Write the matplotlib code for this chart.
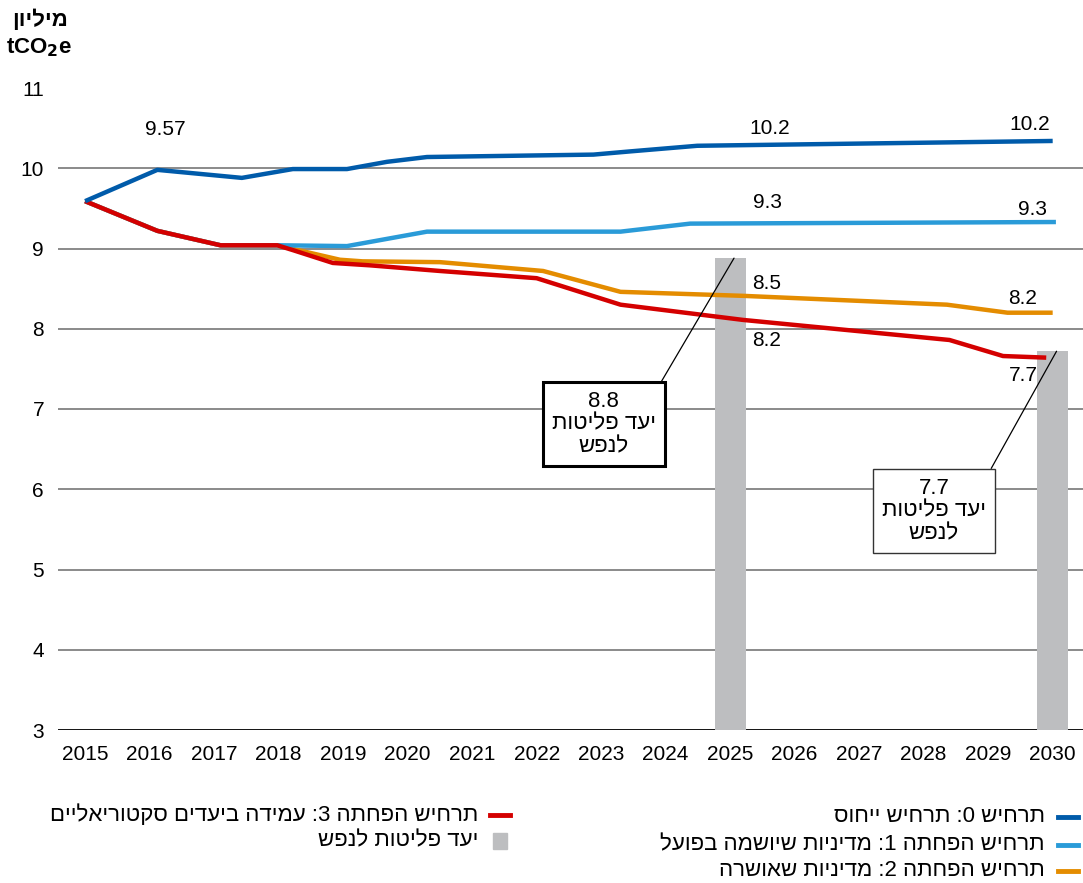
import matplotlib
matplotlib.use("Agg")
import matplotlib.pyplot as plt
from matplotlib.lines import Line2D
from matplotlib.patches import Rectangle

# Hebrew needs a font with the glyphs; matplotlib has no bidi so strings are reversed by hand
HEB = ['Liberation Sans', 'DejaVu Sans']
plt.rcParams['font.family'] = ['Liberation Sans', 'DejaVu Sans']


def rtl(s):
    # reverse logical order to visual order, keep digit runs left-to-right
    out = s[::-1]
    res, run = [], ''
    for ch in out:
        if ch.isdigit() or ch == '.':
            run += ch
        else:
            if run:
                res.append(run[::-1])
                run = ''
            res.append(ch)
    if run:
        res.append(run[::-1])
    return ''.join(res)


# data
base_x = [2015.0, 2016.12, 2017.43, 2018.22, 2019.06, 2019.68, 2020.3, 2022.88, 2023.45, 2024.49, 2030.0]
base_y = [9.59, 9.98, 9.88, 9.99, 9.99, 10.08, 10.14, 10.17, 10.21, 10.28, 10.34]

impl_x = [2015.0, 2016.12, 2017.1, 2018.0, 2019.06, 2020.3, 2023.3, 2024.38, 2030.05]
impl_y = [9.59, 9.22, 9.04, 9.04, 9.03, 9.21, 9.21, 9.31, 9.33]

appr_x = [2015.0, 2016.12, 2017.1, 2017.98, 2018.95, 2019.3, 2020.5, 2022.1, 2023.3, 2025.2, 2028.36, 2029.3, 2030.0]
appr_y = [9.59, 9.22, 9.04, 9.04, 8.86, 8.84, 8.83, 8.72, 8.46, 8.41, 8.30, 8.20, 8.20]

sect_x = [2015.0, 2016.12, 2017.1, 2017.98, 2018.22, 2018.84, 2019.42, 2020.5, 2022.0, 2023.3, 2025.2, 2028.4, 2029.23, 2029.9]
sect_y = [9.59, 9.22, 9.04, 9.04, 8.98, 8.82, 8.79, 8.72, 8.63, 8.30, 8.11, 7.86, 7.66, 7.64]

target_years = [2025, 2030]
target_vals = [8.88, 7.72]
target_text = ['8.8', '7.7']

years = list(range(2015, 2031))

value_labels = [
    ('9.57', 2016.24, 10.48),
    ('10.2', 2025.62, 10.50),
    ('10.2', 2029.64, 10.55),
    ('9.3', 2025.58, 9.57),
    ('9.3', 2029.69, 9.49),
    ('8.5', 2025.57, 8.57),
    ('8.2', 2025.57, 7.85),
    ('8.2', 2029.54, 8.38),
    ('7.7', 2029.54, 7.42),
]

C_BASE = '#005BAA'
C_IMPL = '#2A9BD8'
C_APPR = '#E48C00'
C_SECT = '#D40000'
C_BAR = '#BDBEC0'

fig = plt.figure(figsize=(10.83, 8.83), dpi=100)
ax = fig.add_axes([58 / 1083, 153 / 883, 1 - 58 / 1083, 642 / 883])

ax.set_xlim(2014.58, 2030.47)
ax.set_ylim(3, 11)

for v in range(4, 11):
    ax.axhline(v, color='#777777', lw=1.2, zorder=1)
ax.axhline(3, color='black', lw=1.3, zorder=1)

ax.bar(target_years, [v - 3 for v in target_vals], bottom=3, width=0.48, color=C_BAR, zorder=2)

lw = 3.2
ax.plot(appr_x, appr_y, color=C_APPR, lw=lw, zorder=3, solid_capstyle='butt')
ax.plot(impl_x, impl_y, color=C_IMPL, lw=lw, zorder=4, solid_capstyle='butt')
ax.plot(sect_x, sect_y, color=C_SECT, lw=lw, zorder=5, solid_capstyle='butt')
ax.plot(base_x, base_y, color=C_BASE, lw=lw, zorder=6, solid_capstyle='butt')

for t, x, y in value_labels:
    ax.text(x, y, t, ha='center', va='center', fontsize=15, zorder=7)

# target boxes with leader lines
box_pos = [(2023.04, 6.81), (2028.16, 5.73)]
box_edge = [dict(lw=2.2, ec='black'), dict(lw=1.0, ec='#333333')]
for yr, val, txt, pos, be in zip(target_years, target_vals, target_text, box_pos, box_edge):
    label = txt + '\n' + rtl('יעד פליטות') + '\n' + rtl('לנפש')
    ax.annotate(label, xy=(yr + 0.06, val), xytext=pos, ha='center', va='center',
                fontsize=16, family=HEB, linespacing=1.1, zorder=8,
                bbox=dict(boxstyle='square,pad=0.4', fc='white', **be),
                arrowprops=dict(arrowstyle='-', color='black', lw=0.9,
                                relpos=(1, 1), shrinkA=0, shrinkB=0))

for s in ax.spines.values():
    s.set_visible(False)
ax.set_xticks(years)
ax.set_xticklabels([str(y) for y in years], fontsize=15)
ax.set_yticks(range(3, 12))
ax.set_yticklabels([str(v) for v in range(3, 12)], fontsize=15)
ax.tick_params(length=0)
ax.tick_params(axis='x', pad=11)
ax.tick_params(axis='y', pad=10)

fig.text(40 / 1083, 1 - 20 / 883, rtl('מיליון'), ha='center', va='center',
         fontsize=16, fontweight='bold', family=HEB)
fig.text(39 / 1083, 1 - 48 / 883, r'tCO$_\mathbf{2}$e', ha='center', va='center',
         fontsize=16, fontweight='bold')

# legend, built by hand so markers sit at the right of the text
legend_items = [
    ('תרחיש 0: תרחיש ייחוס', C_BASE, 'line', 1068, 817, 1045),
    ('תרחיש הפחתה 1: מדיניות שיושמה בפועל', C_IMPL, 'line', 1068, 845, 1045),
    ('תרחיש הפחתה 2: מדיניות שאושרה', C_APPR, 'line', 1068, 871, 1045),
    ('תרחיש הפחתה 3: עמידה ביעדים סקטוריאליים', C_SECT, 'line', 500, 815, 478),
    ('יעד פליטות לנפש', C_BAR, 'box', 500, 841, 478),
]
for txt, col, kind, mx, my, tx in legend_items:
    fx, fy = mx / 1083, 1 - my / 883
    if kind == 'line':
        fig.add_artist(Line2D([fx - 10 / 1083, fx + 10 / 1083], [fy, fy], color=col, lw=3.5,
                              transform=fig.transFigure))
    else:
        fig.add_artist(Rectangle((fx - 7 / 1083, fy - 8 / 883), 14 / 1083, 16 / 883,
                                 color=col, transform=fig.transFigure))
    fig.text(tx / 1083, fy, rtl(txt), ha='right', va='center', fontsize=16, family=HEB)

fig.savefig('out.png', dpi=100)
